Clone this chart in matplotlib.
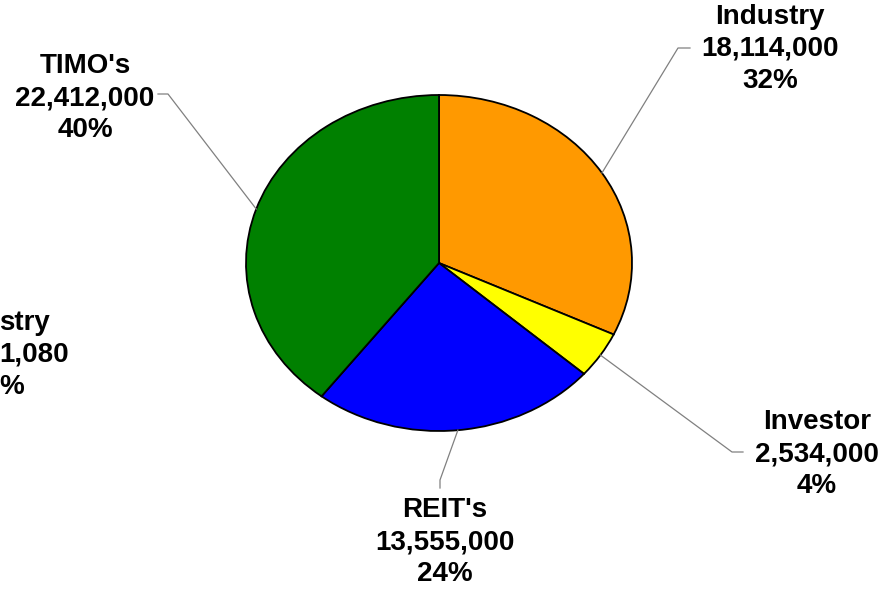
import numpy as np
import matplotlib
matplotlib.use("Agg")
from matplotlib import pyplot as plt

labels = ["Industry", "Investor", "REIT's", "TIMO's"]
values = [18114000, 2534000, 13555000, 22412000]
colors = ["#FF9900", "#FFFF00", "#0000FF", "#008000"]

# partial label of a neighbouring chart, cut off at the left edge
cut_text = "stry\n1,080\n%"

W, H = 889, 589
cx, cy, rx, ry = 439, 263, 193, 168

# label layout in pixels: elbow of leader, end of leader, text centre
layout = {
    "Industry": ((678, 48), (690, 48), (770, 49)),
    "Investor": ((732, 452), (743, 452), (817, 454)),
    "REIT's": ((440, 480), (440, 488), (445, 542)),
    "TIMO's": ((168, 94), (158, 94), (85, 98)),
}


def px(x, y):
    return (x - cx) / rx, (cy - y) / ry


plt.rcParams['font.family'] = ['Liberation Sans', 'DejaVu Sans']

fig = plt.figure(figsize=(W / 100, H / 100), dpi=100)
ax = fig.add_axes([(cx - rx) / W, (H - cy - ry) / H, 2 * rx / W, 2 * ry / H])
wedges, _ = ax.pie(values, colors=colors, startangle=90, counterclock=False,
                   radius=1.0, wedgeprops=dict(edgecolor="black", linewidth=1.3))
ax.set_aspect("auto")
ax.set_xlim(-1, 1)
ax.set_ylim(-1, 1)
ax.axis("off")

total = sum(values)
for w, lab, val in zip(wedges, labels, values):
    mid = np.deg2rad((w.theta1 + w.theta2) / 2)
    x0, y0 = np.cos(mid), np.sin(mid)
    elbow, end, tc = layout[lab]
    ex, ey = px(*elbow)
    fx, fy = px(*end)
    ax.plot([x0, ex, fx], [y0, ey, fy], color="#808080", lw=0.9, clip_on=False)
    tx, ty = px(*tc)
    txt = "%s\n%s\n%d%%" % (lab, format(val, ","), round(100 * val / total))
    ax.text(tx, ty, txt, ha="center", va="center", fontsize=20, fontweight="bold",
            linespacing=1.32, clip_on=False)

lx, ly = px(-1, 355)
ax.text(lx, ly, cut_text, ha="left", va="center", fontsize=20, fontweight="bold",
        linespacing=1.32, clip_on=False)

fig.savefig("out.png", dpi=100)
